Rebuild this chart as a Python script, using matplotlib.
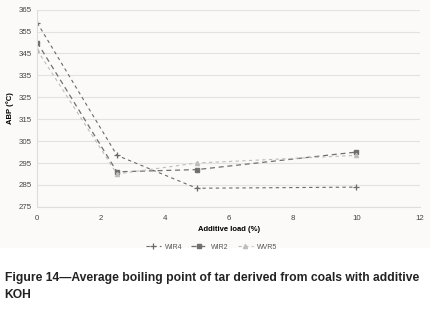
import matplotlib.pyplot as plt

load = [0, 2.5, 5, 10]
wir4 = [359, 298.5, 283.5, 284]
wir2 = [350, 291, 292, 300]
wvr5 = [346.5, 290, 295, 298.5]

xticks = [0, 2, 4, 6, 8, 10, 12]
yticks = [275, 285, 295, 305, 315, 325, 335, 345, 355, 365]

plt.rcParams['font.family'] = ['Liberation Sans', 'DejaVu Sans']

fig = plt.figure(figsize=(4.38, 3.12), dpi=100)
fig.patch.set_facecolor('white')

# fondo del grafico
bg = fig.add_axes([0, 0.205, 0.982, 0.795])
bg.set_facecolor('#fbfaf8')
bg.set_xticks([])
bg.set_yticks([])
for s in bg.spines.values():
    s.set_visible(False)

ax = fig.add_axes([0.085, 0.337, 0.874, 0.632])
ax.set_facecolor('#fbfaf8')

ax.plot(load, wir4, ls=(0, (3, 3)), color='#6a6a6a', marker='+', ms=5, mew=0.9, lw=0.8, label='WIR4')
ax.plot(load, wir2, ls=(0, (4, 3)), color='#707070', marker='s', ms=3.5, lw=0.9, label='WIR2')
ax.plot(load, wvr5, ls=(0, (3, 3)), color='#bdbdbd', marker='^', ms=3, lw=0.8, label='WVR5')

ax.set_xlim(0, 12)
ax.set_ylim(275, 365)
ax.set_xticks(xticks)
ax.set_yticks(yticks)
ax.tick_params(labelsize=5.7, colors='#444444', length=0)
ax.tick_params(axis='x', pad=6)
ax.tick_params(axis='y', pad=4)
ax.grid(axis='y', color='#e2e2e2', lw=0.8)
ax.set_axisbelow(True)
for s in ['top', 'right']:
    ax.spines[s].set_visible(False)
ax.spines['left'].set_color('#dddddd')
ax.spines['bottom'].set_color('#dddddd')

ax.set_xlabel('Additive load (%)', fontsize=5.5, fontweight='bold', labelpad=3)
ax.set_ylabel('ABP (°C)', fontsize=5.5, fontweight='bold', labelpad=3)

ax.legend(loc='upper center', bbox_to_anchor=(0.455, -0.155), ncol=3, frameon=False,
          fontsize=5, handlelength=2.2, handletextpad=0.6, columnspacing=1.3,
          labelcolor='#555555')

fig.text(0.012, 0.11, 'Figure 14\u2014Average boiling point of tar derived from coals with additive',
         fontsize=8.7, fontweight='bold', va='center', ha='left', color='#222222')
fig.text(0.009, 0.055, 'KOH',
         fontsize=8.7, fontweight='bold', va='center', ha='left', color='#222222')

fig.savefig('out.png', dpi=100)
